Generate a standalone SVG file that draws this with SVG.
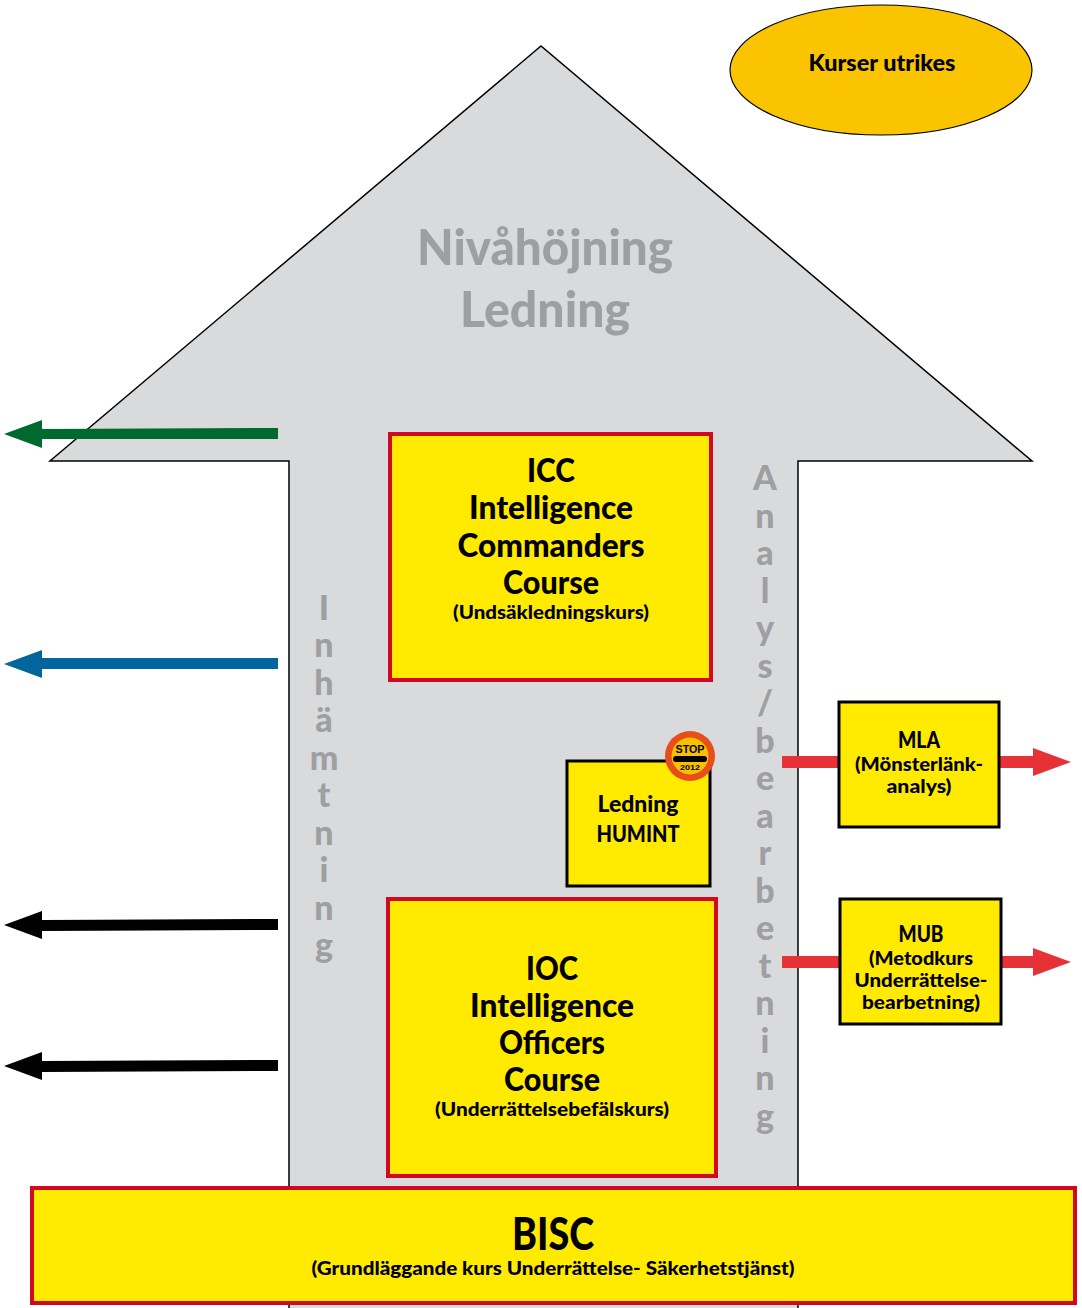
<svg xmlns="http://www.w3.org/2000/svg" width="1082" height="1308" viewBox="0 0 1082 1308">
<style>
  text { font-family: Lato, "Open Sans", "Liberation Sans", sans-serif; font-weight: 900; text-anchor: middle; fill: #000; }
  .big { font-size: 32px; }
  .sub { font-size: 19px; }
  .mid { font-size: 22px; }
  .gray { fill: #9d9fa2; }
  .vert { font-size: 34px; fill: #9d9fa2; }
  .redbox { fill: #ffea00; stroke: #d2091e; stroke-width: 4; }
  .blackbox { fill: #ffea00; stroke: #000; stroke-width: 3; }
</style>
<rect width="1082" height="1308" fill="#fff"/>
<g id="big-arrow">
  <path d="M289,1310 L289,461 L50,461 L541,46 L1032,461 L798,461 L798,1310" fill="#d9dadc" stroke="#000" stroke-width="1.5"/>
  <text class="gray" x="545" y="265" font-size="50" textLength="256" lengthAdjust="spacingAndGlyphs">Nivåhöjning</text>
  <text class="gray" x="545" y="327" font-size="50" textLength="170" lengthAdjust="spacingAndGlyphs">Ledning</text>
</g>
<g id="inhamtning">
  <text class="vert" x="324" y="620">I</text>
  <text class="vert" x="324" y="657">n</text>
  <text class="vert" x="324" y="695">h</text>
  <text class="vert" x="324" y="732">ä</text>
  <text class="vert" x="324" y="770">m</text>
  <text class="vert" x="324" y="807">t</text>
  <text class="vert" x="324" y="845">n</text>
  <text class="vert" x="324" y="882">i</text>
  <text class="vert" x="324" y="920">n</text>
  <text class="vert" x="324" y="957">g</text>
</g>
<g id="analys">
  <text class="vert" x="765" y="490">A</text>
  <text class="vert" x="765" y="528">n</text>
  <text class="vert" x="765" y="565">a</text>
  <text class="vert" x="765" y="603">l</text>
  <text class="vert" x="765" y="640">y</text>
  <text class="vert" x="765" y="678">s</text>
  <text class="vert" x="765" y="715">/</text>
  <text class="vert" x="765" y="753">b</text>
  <text class="vert" x="765" y="790">e</text>
  <text class="vert" x="765" y="828">a</text>
  <text class="vert" x="765" y="865">r</text>
  <text class="vert" x="765" y="903">b</text>
  <text class="vert" x="765" y="940">e</text>
  <text class="vert" x="765" y="978">t</text>
  <text class="vert" x="765" y="1015">n</text>
  <text class="vert" x="765" y="1053">i</text>
  <text class="vert" x="765" y="1090">n</text>
  <text class="vert" x="765" y="1128">g</text>
</g>
<g id="connectors">
  <path d="M278,428 L42,429 L42,420 L4,434 L42,448 L42,439 L278,439 Z" fill="#006a2e"/>
  <path d="M278,658 L42,658 L42,650 L4,664 L42,678 L42,669 L278,669 Z" fill="#00669b"/>
  <path d="M278,919 L42,920 L42,911 L4,925 L42,939 L42,931 L278,930 Z" fill="#000"/>
  <path d="M278,1060 L42,1061 L42,1052 L4,1066 L42,1080 L42,1072 L278,1071 Z" fill="#000"/>
  <rect x="782" y="756" width="57" height="12" fill="#e63236"/>
  <path d="M999,756 L1033,756 L1033,748 L1071,762 L1033,776 L1033,768 L999,768 Z" fill="#e63236"/>
  <rect x="782" y="956" width="58" height="12" fill="#e63236"/>
  <path d="M1001,956 L1033,956 L1033,948 L1071,962 L1033,976 L1033,968 L1001,968 Z" fill="#e63236"/>
</g>
<g id="kurser-utrikes">
  <ellipse cx="881" cy="70" rx="151" ry="65" fill="#fbc400" stroke="#000" stroke-width="1.2"/>
  <text class="mid" x="882" y="71" textLength="147" lengthAdjust="spacingAndGlyphs">Kurser utrikes</text>
</g>
<g id="icc">
  <rect class="redbox" x="390" y="434" width="321" height="246"/>
  <text class="big" x="551" y="482" textLength="48" lengthAdjust="spacingAndGlyphs">ICC</text>
  <text class="big" x="551" y="519" textLength="164" lengthAdjust="spacingAndGlyphs">Intelligence</text>
  <text class="big" x="551" y="557" textLength="187" lengthAdjust="spacingAndGlyphs">Commanders</text>
  <text class="big" x="551" y="594" textLength="96" lengthAdjust="spacingAndGlyphs">Course</text>
  <text class="sub" x="551" y="619" textLength="196" lengthAdjust="spacingAndGlyphs">(Undsäkledningskurs)</text>
</g>
<g id="ledning-humint">
  <rect class="blackbox" x="567" y="761" width="143" height="125"/>
  <text class="mid" x="638" y="812" textLength="81" lengthAdjust="spacingAndGlyphs">Ledning</text>
  <text class="mid" x="638" y="842" textLength="83" lengthAdjust="spacingAndGlyphs">HUMINT</text>
</g>
<g id="stop-sign">
  <circle cx="690" cy="756" r="25" fill="#e84e1b"/>
  <circle cx="690" cy="756" r="18.5" fill="#f9c000"/>
  <text x="690" y="753" font-size="11" textLength="29" lengthAdjust="spacingAndGlyphs" style="font-family:'Liberation Sans',sans-serif;font-weight:bold">STOP</text>
  <rect x="673" y="756" width="34" height="6" rx="3" fill="#000"/>
  <text x="690" y="770" font-size="8" textLength="20" lengthAdjust="spacingAndGlyphs" style="font-family:'Liberation Sans',sans-serif;font-weight:bold">2012</text>
</g>
<g id="ioc">
  <rect class="redbox" x="388" y="899" width="328" height="277"/>
  <text class="big" x="552" y="980" textLength="52" lengthAdjust="spacingAndGlyphs">IOC</text>
  <text class="big" x="552" y="1017" textLength="164" lengthAdjust="spacingAndGlyphs">Intelligence</text>
  <text class="big" x="552" y="1054" textLength="106" lengthAdjust="spacingAndGlyphs">Officers</text>
  <text class="big" x="552" y="1091" textLength="96" lengthAdjust="spacingAndGlyphs">Course</text>
  <text class="sub" x="552" y="1116" textLength="234" lengthAdjust="spacingAndGlyphs">(Underrättelsebefälskurs)</text>
</g>
<g id="mla">
  <rect class="blackbox" x="839" y="702" width="160" height="125"/>
  <text class="mid" x="919" y="748" textLength="42" lengthAdjust="spacingAndGlyphs">MLA</text>
  <text class="sub" x="919" y="771" textLength="128" lengthAdjust="spacingAndGlyphs">(Mönsterlänk-</text>
  <text class="sub" x="919" y="793" textLength="65" lengthAdjust="spacingAndGlyphs">analys)</text>
</g>
<g id="mub">
  <rect class="blackbox" x="840" y="899" width="161" height="125"/>
  <text class="mid" x="921" y="942" textLength="45" lengthAdjust="spacingAndGlyphs">MUB</text>
  <text class="sub" x="921" y="965" textLength="104" lengthAdjust="spacingAndGlyphs">(Metodkurs</text>
  <text class="sub" x="921" y="987" textLength="133" lengthAdjust="spacingAndGlyphs">Underrättelse-</text>
  <text class="sub" x="921" y="1009" textLength="118" lengthAdjust="spacingAndGlyphs">bearbetning)</text>
</g>
<g id="bisc">
  <rect class="redbox" x="32" y="1188" width="1043" height="115"/>
  <text x="553" y="1250" font-size="46" textLength="82" lengthAdjust="spacingAndGlyphs">BISC</text>
  <text class="sub" x="553" y="1275" textLength="483" lengthAdjust="spacingAndGlyphs">(Grundläggande kurs Underrättelse- Säkerhetstjänst)</text>
</g>
</svg>
